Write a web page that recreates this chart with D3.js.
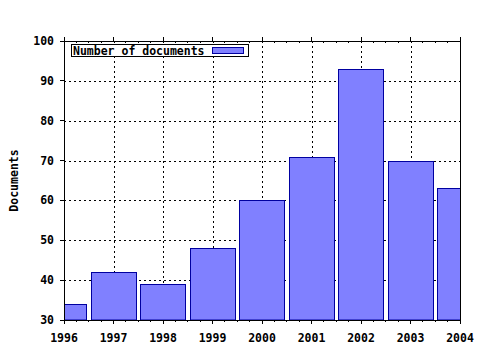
<!DOCTYPE html>
<html><head><meta charset="utf-8">
<script src="https://cdn.jsdelivr.net/npm/d3@7"></script>
<style>body{margin:0;background:#fff}svg{display:block}text{font-family:"DejaVu Sans Mono",monospace;font-weight:bold;font-size:11.5px;fill:#000}</style>
</head><body>
<script>
const years = [1996, 1997, 1998, 1999, 2000, 2001, 2002, 2003, 2004];
const documents = [34, 42, 39, 48, 60, 71, 93, 70, 63];
const yTicks = [30, 40, 50, 60, 70, 80, 90, 100];
const seriesName = "Number of documents";
const yTitle = "Documents";

const W = 480, H = 350;
const L = 64, R = 460, T = 41, B = 320;
const svg = d3.select("body").append("svg").attr("width", W).attr("height", H);

const x = d3.scaleLinear().domain([1996, 2004]).range([L, R]);
const y = d3.scaleLinear().domain([30, 100]).range([B, T]);
const step = x(1997) - x(1996);
const bw = step * 0.92;

svg.append("defs").append("clipPath").attr("id", "plot")
  .append("rect").attr("x", L).attr("y", T).attr("width", R - L).attr("height", B - T);

// grid
const g = svg.append("g").attr("stroke", "#000").attr("stroke-dasharray", "2,3").attr("stroke-width", 1);
g.selectAll("line.h").data(yTicks.filter(v => v > 30 && v < 100)).join("line")
  .attr("x1", L).attr("x2", R).attr("y1", d => Math.round(y(d)) + 0.5).attr("y2", d => Math.round(y(d)) + 0.5);
g.selectAll("line.v").data(years.filter(v => v > 1996 && v < 2004)).join("line")
  .attr("y1", T).attr("y2", B).attr("x1", d => Math.round(x(d)) + 0.5).attr("x2", d => Math.round(x(d)) + 0.5);

// bars
svg.append("g").attr("clip-path", "url(#plot)").selectAll("rect").data(years).join("rect")
  .attr("x", (d) => Math.round(x(d) - bw / 2) + 0.5)
  .attr("width", Math.round(bw) - 1)
  .attr("y", (d, i) => Math.round(y(documents[i])) + 0.5)
  .attr("height", (d, i) => B - Math.round(y(documents[i])) - 0.5)
  .attr("fill", "#8080ff").attr("stroke", "#0000a0").attr("stroke-width", 1);

// axes frame
const ax = svg.append("g").attr("stroke", "#000").attr("stroke-width", 1).attr("shape-rendering", "crispEdges");
ax.append("line").attr("x1", L).attr("x2", L).attr("y1", T - 4).attr("y2", B + 1);
ax.append("line").attr("x1", R).attr("x2", R).attr("y1", T - 4).attr("y2", B + 1);
ax.append("line").attr("x1", L).attr("x2", R).attr("y1", T).attr("y2", T);
ax.append("line").attr("x1", L).attr("x2", R).attr("y1", B).attr("y2", B);

const minor = [];
for (let i = 0; i < years.length - 1; i++) for (let k = 1; k < 4; k++) minor.push(years[i] + k / 4);
ax.selectAll("line.xb").data(years).join("line").attr("x1", d => x(d)).attr("x2", d => x(d)).attr("y1", B).attr("y2", B + 4);
ax.selectAll("line.xbm").data(minor).join("line").attr("x1", d => x(d)).attr("x2", d => x(d)).attr("y1", B).attr("y2", B + 2);
ax.selectAll("line.xt").data(years).join("line").attr("x1", d => x(d)).attr("x2", d => x(d)).attr("y1", T).attr("y2", T - 4);
ax.selectAll("line.xtm").data(minor).join("line").attr("x1", d => x(d)).attr("x2", d => x(d)).attr("y1", T).attr("y2", T + 2);
ax.selectAll("line.yl").data(yTicks).join("line").attr("x1", L - 4).attr("x2", L).attr("y1", d => y(d)).attr("y2", d => y(d));

// labels
svg.append("g").selectAll("text").data(years).join("text")
  .attr("x", d => x(d)).attr("y", 342).attr("text-anchor", "middle").text(d => d);
svg.append("g").selectAll("text").data(yTicks).join("text")
  .attr("x", 54).attr("y", d => y(d) + 4).attr("text-anchor", "end").text(d => d);
svg.append("text").attr("transform", "translate(18," + ((T + B) / 2) + ") rotate(-90)")
  .attr("text-anchor", "middle").text(yTitle);

// legend
const lg = svg.append("g");
lg.append("rect").attr("x", 71.5).attr("y", 44.5).attr("width", 177).attr("height", 12).attr("fill", "#fff").attr("stroke", "#000");
lg.append("text").attr("x", 73).attr("y", 54.5).text(seriesName);
lg.append("rect").attr("x", 212.5).attr("y", 47.5).attr("width", 31).attr("height", 6).attr("fill", "#8080ff").attr("stroke", "#0000a0");
</script>
</body></html>
